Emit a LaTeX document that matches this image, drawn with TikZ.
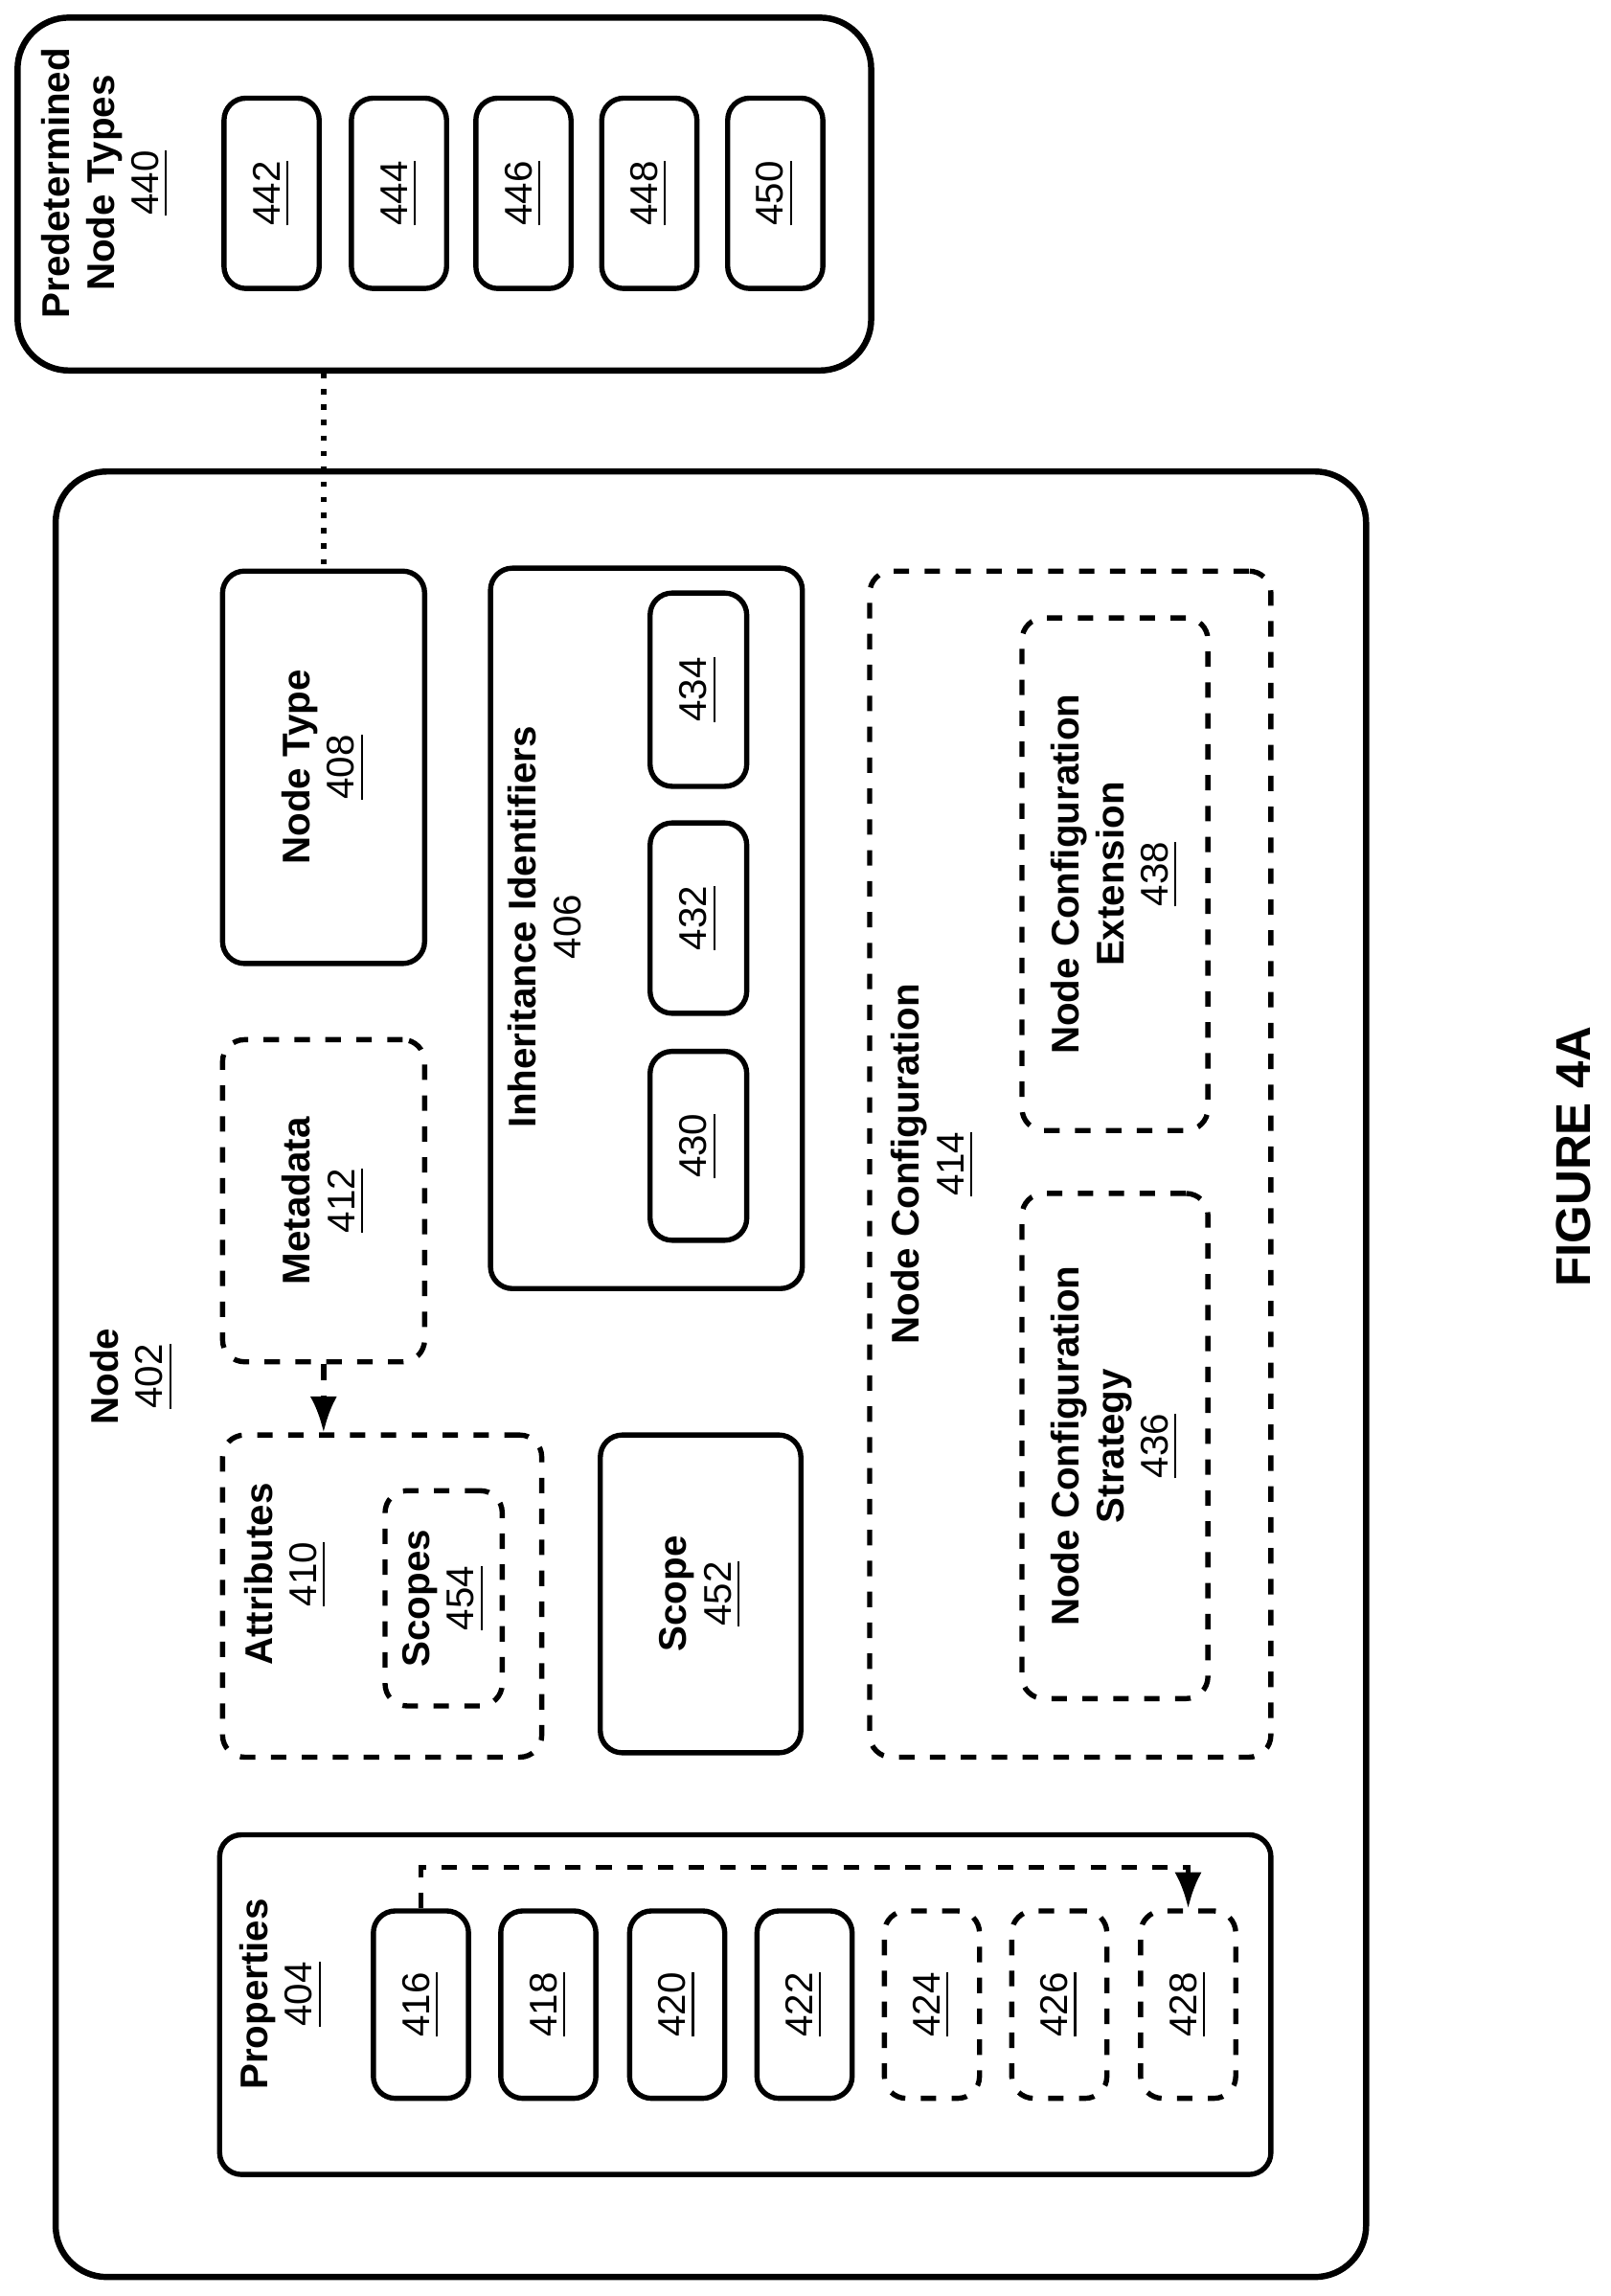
\documentclass[tikz,border=0pt]{standalone}
\usepackage{fontspec}
\setmainfont{Liberation Sans}
\usetikzlibrary{arrows.meta}

\tikzset{
  box/.style={draw, line width=1pt, rounded corners=0.15cm},
  bigbox/.style={draw, line width=1.2pt, rounded corners=0.35cm},
  dbox/.style={box, dashed},
  txt/.style={rotate=90, align=center, font=\fontsize{7.5}{8.6}\selectfont},
}
% box from corner (x1,y1) to (x2,y2), in reference pixels
\newcommand\bx[6]{%
  \pgfmathsetmacro\bw{(#4-#2)*0.01}\pgfmathsetmacro\bh{(#5-#3)*0.01}%
  \node[#6, minimum width=\bw cm, minimum height=\bh cm, inner sep=0pt] (#1) at ({(#2+#4)/2},{(#3+#5)/2}) {};}
\newcommand\ul[1]{\underline{#1}}

\begin{document}
\begin{tikzpicture}[x=0.01cm,y=-0.01cm]
\useasboundingbox (0,0) rectangle (1100,1568);

% predetermined node types
\bx{types}{12}{12}{595}{253}{bigbox}
\node[txt] (typeslbl) at (72,125) {\textbf{Predetermined}\\\textbf{Node Types}\\\ul{440}};
\bx{t442}{153}{67}{218}{197}{box}
\bx{t444}{240}{67}{305}{197}{box}
\bx{t446}{325}{67}{390}{197}{box}
\bx{t448}{411}{67}{476}{197}{box}
\bx{t450}{497}{67}{562}{197}{box}
\foreach \n in {442,444,446,448,450}
  \node[txt] at (t\n.center) {\ul{\n}};

% node
\bx{node}{38}{322}{933}{1555}{bigbox}
\node[txt] (nodelbl) at (90,940) {\textbf{Node}\\\ul{402}};

\bx{ntype}{152}{390}{290}{658}{box}
\node[txt] at (ntype.center) {\textbf{Node Type}\\\ul{408}};
\draw[dotted, line width=1pt] (ntype.north |- types.south) -- (ntype.north);

\bx{inher}{335}{388}{548}{880}{box}
\node[txt] at (372,633) {\textbf{Inheritance Identifiers}\\406};
\bx{i430}{444}{718}{510}{847}{box}
\bx{i432}{444}{562}{510}{692}{box}
\bx{i434}{444}{405}{510}{537}{box}
\foreach \n in {430,432,434}
  \node[txt] at (i\n.center) {\ul{\n}};

\bx{config}{594}{390}{868}{1200}{dbox}
\node[txt] at (637,795) {\textbf{Node Configuration}\\\ul{414}};
\bx{ext}{698}{422}{825}{772}{dbox}
\node[txt] at (ext.center) {\textbf{Node Configuration}\\\textbf{Extension}\\\ul{438}};
\bx{strat}{698}{815}{825}{1160}{dbox}
\node[txt] at (strat.center) {\textbf{Node Configuration}\\\textbf{Strategy}\\\ul{436}};

\bx{meta}{152}{710}{290}{930}{dbox}
\node[txt] at (meta.center) {\textbf{Metadata}\\\ul{412}};
\bx{attr}{152}{980}{370}{1200}{dbox}
\node[txt] at (195,1075) {\textbf{Attributes}\\\ul{410}};
\bx{scopes}{263}{1018}{343}{1165}{dbox}
\node[txt] at (scopes.center) {\textbf{Scopes}\\\ul{454}};
\draw[dashed, line width=1pt, -{Latex[length=7pt]}] (meta.south) -- (meta.south |- attr.north);

\bx{scope}{410}{980}{547}{1197}{box}
\node[txt] at (scope.center) {\textbf{Scope}\\\ul{452}};

% properties
\bx{props}{150}{1253}{868}{1485}{box}
\node[txt] at (192,1362) {\textbf{Properties}\\\ul{404}};
\bx{p416}{255}{1305}{320}{1433}{box}
\bx{p418}{342}{1305}{407}{1433}{box}
\bx{p420}{430}{1305}{495}{1433}{box}
\bx{p422}{517}{1305}{582}{1433}{box}
\bx{p424}{604}{1305}{669}{1433}{dbox}
\bx{p426}{691}{1305}{756}{1433}{dbox}
\bx{p428}{779}{1305}{844}{1433}{dbox}
\foreach \n in {416,418,420,422,424,426,428}
  \node[txt] at (p\n.center) {\ul{\n}};
\draw[dashed, line width=1pt, -{Latex[length=7pt]}] (p416.north) -- ++(0,-28) -| (p428.north);

\node[txt, font=\fontsize{9.5}{11}\selectfont\bfseries] (fig) at (1075,790) {FIGURE 4A};
\end{tikzpicture}
\end{document}
